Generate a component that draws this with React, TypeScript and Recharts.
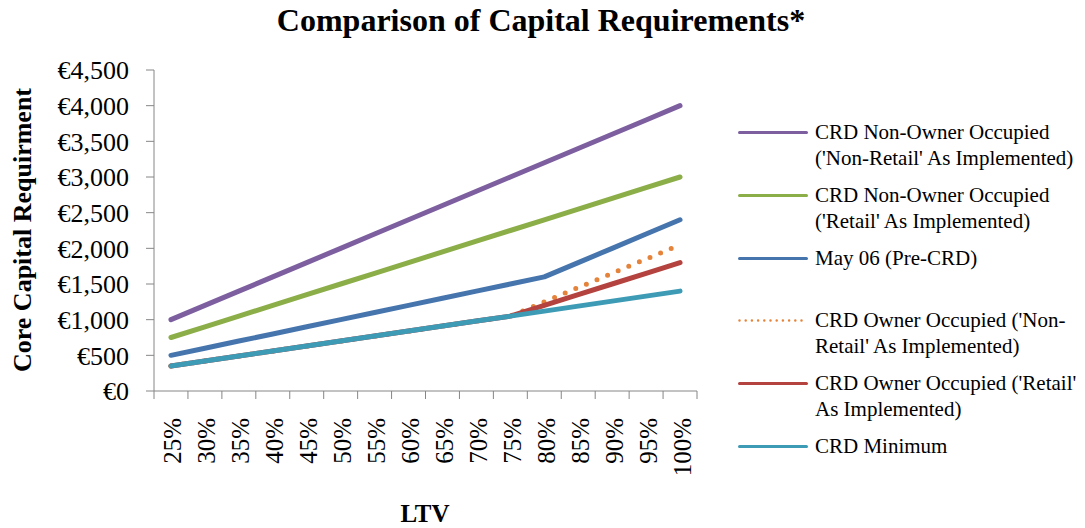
import { LineChart, Line, XAxis, YAxis } from "recharts";

const ltv = ["25%", "30%", "35%", "40%", "45%", "50%", "55%", "60%", "65%", "70%", "75%", "80%", "85%", "90%", "95%", "100%"];

const nonOwnerNonRetail = [1000, 1200, 1400, 1600, 1800, 2000, 2200, 2400, 2600, 2800, 3000, 3200, 3400, 3600, 3800, 4000];
const nonOwnerRetail = [750, 900, 1050, 1200, 1350, 1500, 1650, 1800, 1950, 2100, 2250, 2400, 2550, 2700, 2850, 3000];
const may06 = [500, 600, 700, 800, 900, 1000, 1100, 1200, 1300, 1400, 1500, 1600, 1800, 2000, 2200, 2400];
const ownerNonRetail = [350, 420, 490, 560, 630, 700, 770, 840, 910, 980, 1050, 1250, 1450, 1650, 1850, 2050];
const ownerRetail = [350, 420, 490, 560, 630, 700, 770, 840, 910, 980, 1050, 1200, 1350, 1500, 1650, 1800];
const crdMinimum = [350, 420, 490, 560, 630, 700, 770, 840, 910, 980, 1050, 1120, 1190, 1260, 1330, 1400];

const yTicks = [0, 500, 1000, 1500, 2000, 2500, 3000, 3500, 4000, 4500];

const series = [
  { key: "a", name: "CRD Non-Owner Occupied\n('Non-Retail' As Implemented)", values: nonOwnerNonRetail, color: "#7d5fa0", dotted: false },
  { key: "b", name: "CRD Non-Owner Occupied\n('Retail' As Implemented)", values: nonOwnerRetail, color: "#8cae48", dotted: false },
  { key: "c", name: "May 06 (Pre-CRD)", values: may06, color: "#4675ae", dotted: false },
  { key: "d", name: "CRD Owner Occupied ('Non-\nRetail' As Implemented)", values: ownerNonRetail, color: "#e5833a", dotted: true },
  { key: "e", name: "CRD Owner Occupied ('Retail'\nAs Implemented)", values: ownerRetail, color: "#b4423e", dotted: false },
  { key: "f", name: "CRD Minimum", values: crdMinimum, color: "#3e9bb5", dotted: false },
];

const data = ltv.map((l, i) => {
  const row: Record<string, string | number> = { ltv: l };
  series.forEach((s) => (row[s.key] = s.values[i]));
  return row;
});

const serif = "'Liberation Serif', 'Times New Roman', serif";
const axisGray = "#868686";

// excel-style category ticks: marks sit between categories, labels rotated
function XTick(props: any) {
  const { x, y, payload } = props;
  const half = payload.offset || 17;
  const isLast = payload.value === ltv[ltv.length - 1];
  return (
    <g>
      <line x1={x - half} x2={x - half} y1={y} y2={y + 8} stroke={axisGray} />
      {isLast && <line x1={x + half} x2={x + half} y1={y} y2={y + 8} stroke={axisGray} />}
      <text
        transform={`translate(${x},${y + 27}) rotate(-90)`}
        textAnchor="end"
        dy="0.42em"
        fontFamily={serif}
        fontSize={25}
        fill="#000"
      >
        {payload.value}
      </text>
    </g>
  );
}

export default function App() {
  return (
    <div style={{ position: "absolute", left: 0, top: 0, width: 1085, height: 528, background: "#fff" }}>
      <div
        style={{
          position: "absolute",
          left: 0,
          top: 2,
          width: 1082,
          textAlign: "center",
          fontFamily: serif,
          fontWeight: "bold",
          fontSize: 32,
        }}
      >
        Comparison of Capital Requirements*
      </div>

      <LineChart width={1085} height={528} data={data} margin={{ top: 70, right: 388, bottom: 0, left: 0 }}>
        <XAxis
          dataKey="ltv"
          scale="band"
          height={137}
          tickSize={0}
          tickMargin={0}
          tickLine={false}
          interval={0}
          axisLine={{ stroke: axisGray }}
          tick={<XTick />}
        />
        <YAxis
          width={154}
          domain={[0, 4500]}
          ticks={yTicks}
          interval={0}
          tickSize={8}
          tickMargin={17}
          axisLine={{ stroke: axisGray }}
          tickLine={{ stroke: axisGray }}
          tickFormatter={(v: number) => "€" + v.toLocaleString("en-US")}
          tick={{ fontFamily: serif, fontSize: 26, fill: "#000" }}
        />
        {series.map((s) => (
          <Line
            key={s.key}
            dataKey={s.key}
            name={s.name}
            stroke={s.color}
            strokeWidth={5}
            strokeLinecap="round"
            strokeLinejoin="round"
            strokeDasharray={s.dotted ? "0 11.5" : undefined}
            dot={false}
            activeDot={false}
            isAnimationActive={false}
          />
        ))}
      </LineChart>

      <div
        style={{
          position: "absolute",
          left: 23,
          top: 230,
          transform: "translate(-50%, -50%) rotate(-90deg)",
          fontFamily: serif,
          fontWeight: "bold",
          fontSize: 26,
          whiteSpace: "nowrap",
        }}
      >
        Core Capital Requirment
      </div>

      <div
        style={{
          position: "absolute",
          left: 425,
          top: 514,
          transform: "translate(-50%, -50%)",
          fontFamily: serif,
          fontWeight: "bold",
          fontSize: 25,
        }}
      >
        LTV
      </div>

      {series.map((s, i) => (
        <div
          key={s.key}
          style={{
            position: "absolute",
            left: 738,
            top: 119 + i * 62.8,
            display: "flex",
            alignItems: "flex-start",
            fontFamily: serif,
            fontSize: 21,
            lineHeight: "26px",
          }}
        >
          <svg width={77} height={26} style={{ flex: "none" }}>
            <line
              x1={1.5}
              x2={68.5}
              y1={13.5}
              y2={13.5}
              stroke={s.color}
              strokeWidth={s.dotted ? 2.5 : 3}
              strokeLinecap="round"
              strokeDasharray={s.dotted ? "0 6.2" : undefined}
            />
          </svg>
          <span style={{ whiteSpace: "pre" }}>{s.name}</span>
        </div>
      ))}
    </div>
  );
}
